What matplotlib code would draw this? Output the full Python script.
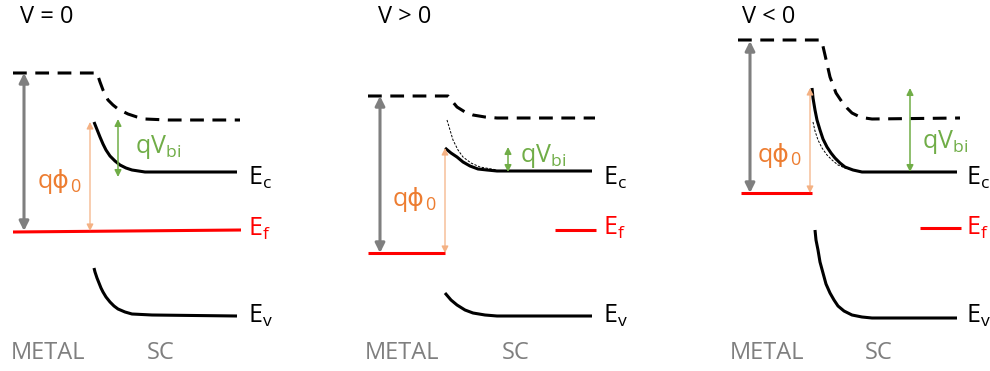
import matplotlib.pyplot as plt

plt.rcParams['font.family'] = ['Open Sans', 'DejaVu Sans']
plt.rcParams['mathtext.fontset'] = 'custom'
plt.rcParams['mathtext.rm'] = 'Open Sans'
plt.rcParams['mathtext.it'] = 'Open Sans'
plt.rcParams['mathtext.default'] = 'regular'

titles = ['V = 0', 'V > 0', 'V < 0']
title_x = [20, 378, 742]

# vacuum level (dashed), traced points per panel
vac_x = [[13, 95, 97, 100, 103, 108, 113, 118, 128, 137, 145, 168, 240],
         [368, 445, 448, 452, 457, 465, 473, 485, 497, 595],
         [738, 820, 822, 825, 830, 836, 842, 847, 852, 858, 865, 872, 960]]
vac_y = [[73, 73, 73, 82, 90, 100, 105, 109, 114, 117, 119, 120, 120],
         [96, 96, 96, 101, 107, 112, 115, 117, 118, 118],
         [40, 40, 42, 55, 77, 93, 102, 108, 113, 116, 118, 119, 118]]

# conduction band
ec_x = [[94, 96, 98, 100, 103, 106, 110, 115, 120, 126, 132, 145, 175, 237],
        [445, 451, 457, 463, 470, 478, 487, 497, 592],
        [812, 813, 815, 817, 820, 823, 827, 831, 835, 840, 845, 853, 862, 895, 957]]
ec_y = [[122, 127, 132, 137, 144, 150, 156, 161, 165, 168, 170, 172, 172, 172],
        [148, 153, 157, 162, 166, 169, 170, 171, 171],
        [88, 98, 110, 120, 130, 139, 147, 153, 158, 163, 167, 170, 172, 172, 172]]

# unbiased conduction band (thin dashed) in biased panels
ec0_x = [[], [447, 450, 453, 458, 463, 471, 480, 497],
         [813, 815, 818, 822, 827, 832, 838, 845, 852]]
ec0_y = [[], [120, 130, 140, 150, 157, 163, 167, 170],
         [122, 131, 140, 148, 155, 160, 165, 168, 170]]

# valence band
ev_x = [[94, 95, 97, 99, 101, 103, 106, 110, 114, 118, 125, 132, 152, 237],
        [445, 451, 457, 465, 473, 485, 497, 592],
        [815, 816, 818, 820, 823, 826, 830, 834, 838, 844, 852, 862, 872, 895, 957]]
ev_y = [[268, 272, 278, 283, 288, 292, 297, 302, 306, 309, 312, 314, 315, 316],
        [293, 300, 305, 310, 313, 315, 316, 316],
        [230, 240, 250, 262, 273, 284, 293, 300, 306, 311, 315, 317, 318, 318, 318]]

# Fermi levels: metal segment and semiconductor segment
ef_m_x = [[13, 241], [368, 445], [741, 812]]
ef_m_y = [[232, 230], [253, 253], [193, 193]]
ef_s_x = [[], [555, 596], [920, 961]]
ef_s_y = [[], [230, 230], [228, 228]]

# arrows: (x, y_top, y_bottom)
gray_arrow = [(24, 73, 231), (380, 96, 253), (750, 41, 193)]
phi_arrow = [(90, 122, 231), (445, 148, 253), (810, 88, 193)]
vbi_arrow = [(118, 119, 177), (508, 147, 172), (910, 88, 172)]

phi_label = [(38, 182), (393, 200), (758, 155)]
vbi_label = [(135, 147), (520, 156), (922, 142)]
band_label_x = [248, 603, 966]
ec_label_y = [178, 178, 178]
ef_label_y = [229, 228, 228]
ev_label_y = [316, 316, 316]
metal_x = [11, 365, 730]
sc_x = [147, 502, 865]

fig = plt.figure(figsize=(9.9, 3.71), dpi=100)
ax = fig.add_axes([0, 0, 1, 1])
ax.set_xlim(0, 990)
ax.set_ylim(371, 0)
ax.axis('off')

black = '#000000'
gray = '#7f7f7f'
orange = '#ed7d31'
for i in range(3):
    ax.text(title_x[i], 17, titles[i], fontsize=17, va='center', ha='left')
    ax.plot(vac_x[i], vac_y[i], color=black, lw=2.2, dashes=(4.5, 2.8))
    ax.plot(ec_x[i], ec_y[i], color=black, lw=2.2, solid_capstyle='butt')
    if ec0_x[i]:
        ax.plot(ec0_x[i], ec0_y[i], color=black, lw=0.7, dashes=(2.5, 1.5))
    ax.plot(ev_x[i], ev_y[i], color=black, lw=2.2, solid_capstyle='butt')
    ax.plot(ef_m_x[i], ef_m_y[i], color='#ff0000', lw=2.2, solid_capstyle='butt')
    if ef_s_x[i]:
        ax.plot(ef_s_x[i], ef_s_y[i], color='#ff0000', lw=2.2, solid_capstyle='butt')

    x, y0, y1 = gray_arrow[i]
    ax.annotate('', xy=(x, y0), xytext=(x, y1),
                arrowprops=dict(arrowstyle='<|-|>', color=gray, lw=2.2,
                                mutation_scale=14, shrinkA=0, shrinkB=0))
    x, y0, y1 = phi_arrow[i]
    ax.annotate('', xy=(x, y0), xytext=(x, y1),
                arrowprops=dict(arrowstyle='<|-|>', color='#f4b183', lw=0.9,
                                mutation_scale=10, shrinkA=0, shrinkB=0))
    x, y0, y1 = vbi_arrow[i]
    ax.annotate('', xy=(x, y0), xytext=(x, y1),
                arrowprops=dict(arrowstyle='<|-|>', color='#70ad47', lw=1.1,
                                mutation_scale=10, shrinkA=0, shrinkB=0))

    t = ax.text(phi_label[i][0], phi_label[i][1], 'qϕ', color=orange,
                fontsize=18, va='center', ha='left')
    ax.annotate('0', xy=(1, 0), xycoords=t, xytext=(0.3, -1),
                textcoords='offset points', color=orange, fontsize=13,
                va='bottom', ha='left')
    ax.text(vbi_label[i][0], vbi_label[i][1], 'qV$_{bi}$', color='#70ad47',
            fontsize=18, va='center', ha='left')
    ax.text(band_label_x[i], ec_label_y[i], 'E$_{c}$', color=black,
            fontsize=18, va='center', ha='left')
    ax.text(band_label_x[i], ef_label_y[i], 'E$_{f}$', color='#ff0000',
            fontsize=18, va='center', ha='left')
    ax.text(band_label_x[i], ev_label_y[i], 'E$_{v}$', color=black,
            fontsize=18, va='center', ha='left')
    ax.text(metal_x[i], 353, 'METAL', color=gray, fontsize=17, va='center', ha='left')
    ax.text(sc_x[i], 353, 'SC', color=gray, fontsize=17, va='center', ha='left')

fig.savefig('out.png', dpi=100)
